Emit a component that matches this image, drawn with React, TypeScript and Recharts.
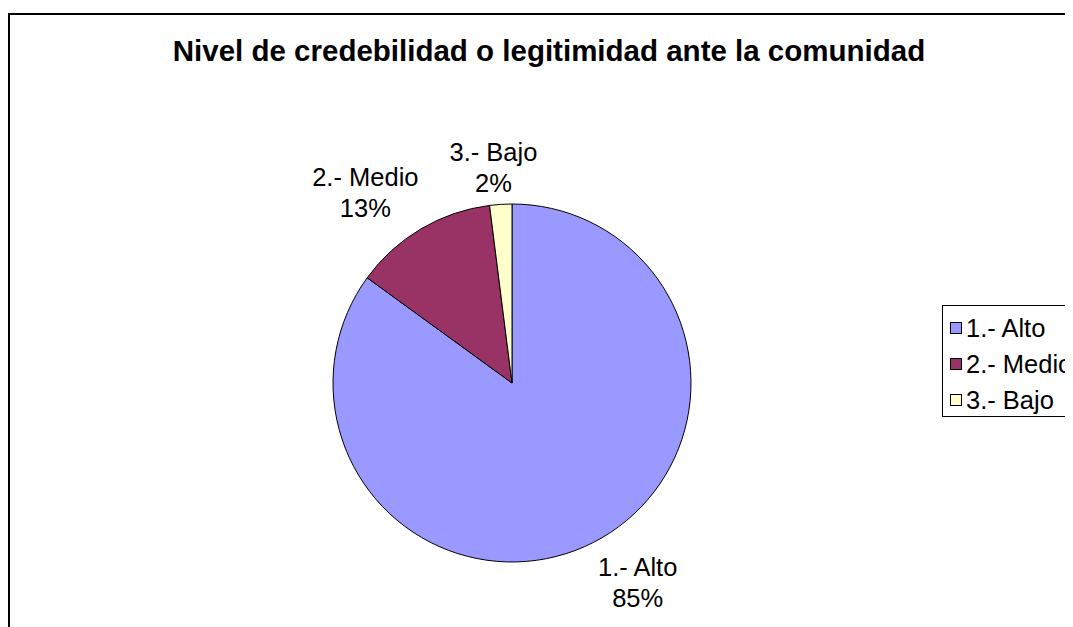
import React from "react";
import { Cell, Legend, Pie, PieChart } from "recharts";

const title = "Nivel de credebilidad o legitimidad ante la comunidad";
const categories = ["1.- Alto", "2.- Medio", "3.- Bajo"];
const values = [85, 13, 2];
const colors = ["#9999FF", "#993366", "#FFFFCC"];

const data = categories.map((name, i) => ({ name, value: values[i] }));

const FONT = "'Liberation Sans', Arial, Helvetica, sans-serif";
const RADIAN = Math.PI / 180;

// how far out each label sits, plus a small nudge (excel places them by box edge)
const labelExtra = [56, 60, 37];
const labelNudge = [
  [19, -10],
  [-25, 15],
  [-5, 0],
];

type LabelProps = {
  cx: number;
  cy: number;
  midAngle: number;
  outerRadius: number;
  percent: number;
  index: number;
  name: string;
};

const renderLabel = ({ cx, cy, midAngle, outerRadius, percent, index, name }: LabelProps) => {
  const r = outerRadius + labelExtra[index];
  const x = cx + r * Math.cos(-midAngle * RADIAN) + labelNudge[index][0];
  const y = cy + r * Math.sin(-midAngle * RADIAN) + labelNudge[index][1];
  return (
    <g>
      <text x={x} y={y - 15.75} textAnchor="middle" dominantBaseline="central" fontSize={25.5} fontFamily={FONT} fill="#000">
        {name}
      </text>
      <text x={x} y={y + 15.75} textAnchor="middle" dominantBaseline="central" fontSize={25.5} fontFamily={FONT} fill="#000">
        {Math.round(percent * 100)}%
      </text>
    </g>
  );
};

type LegendEntry = { value: string; color?: string };

const LegendBox = ({ payload }: { payload?: Array<LegendEntry> }) => (
  <div
    style={{
      width: 200,
      height: 112,
      border: "1px solid #000",
      boxSizing: "border-box",
      background: "#fff",
      paddingTop: 4,
      fontFamily: FONT,
      fontSize: 25.5,
      color: "#000",
    }}
  >
    {(payload || []).map((entry, i) => (
      <div key={i} style={{ height: 36, display: "flex", alignItems: "center", whiteSpace: "nowrap" }}>
        <span
          style={{
            display: "inline-block",
            width: 10,
            height: 10,
            marginLeft: 7,
            marginRight: 4,
            border: "1px solid #000",
            background: colors[i],
          }}
        />
        <span>{entry.value}</span>
      </div>
    ))}
  </div>
);

export default function App() {
  return (
    <div style={{ position: "relative", width: 1065, height: 619, overflow: "hidden", background: "#fff" }}>
      <div
        style={{
          position: "absolute",
          left: 0,
          top: 5,
          width: 1200,
          height: 800,
          border: "2px solid #000",
          boxSizing: "border-box",
        }}
      />
      <div
        style={{
          position: "absolute",
          left: 0,
          width: 1082,
          top: 26,
          lineHeight: "33px",
          textAlign: "center",
          fontFamily: FONT,
          fontWeight: "bold",
          fontSize: 29.5,
          color: "#000",
          whiteSpace: "nowrap",
        }}
      >
        {title}
      </div>
      <div style={{ position: "absolute", left: 0, top: 0 }}>
        <PieChart width={1065} height={619} margin={{ top: 0, right: 0, bottom: 0, left: 0 }}>
          <Pie
            data={data}
            dataKey="value"
            nameKey="name"
            cx={504}
            cy={375}
            outerRadius={179}
            startAngle={90}
            endAngle={-270}
            stroke="#000"
            strokeWidth={1}
            label={renderLabel}
            labelLine={false}
            isAnimationActive={false}
          >
            {data.map((d, i) => (
              <Cell key={d.name} fill={colors[i]} />
            ))}
          </Pie>
          <Legend
            layout="vertical"
            verticalAlign="middle"
            align="right"
            content={<LegendBox />}
            wrapperStyle={{ left: 934, right: "auto", top: 297, width: 200 }}
          />
        </PieChart>
      </div>
    </div>
  );
}
